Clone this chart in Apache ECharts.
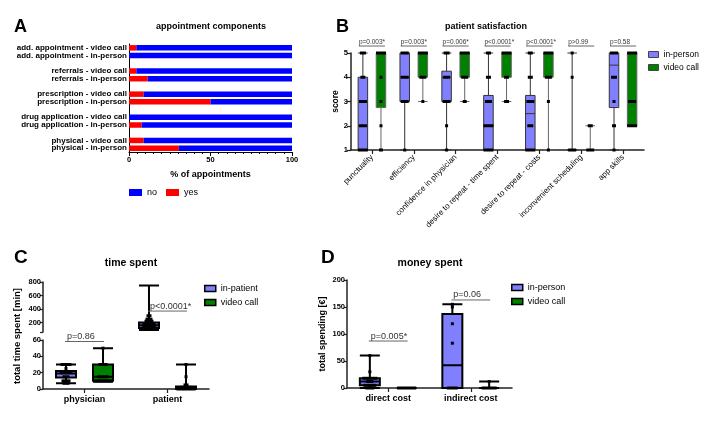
<!DOCTYPE html>
<html>
<head>
<meta charset="utf-8">
<script src="https://cdn.jsdelivr.net/npm/echarts@6/dist/echarts.min.js"></script>
<style>
  html, body { margin: 0; padding: 0; background: #fff; }
  #chart { width: 710px; height: 422px; }
</style>
</head>
<body>
<div id="chart"></div>
<script>
const FONT = '"Liberation Sans", Arial, sans-serif';

// A - appointment components (% of appointments, yes / no)
const aCats = [
  'add. appointment - video call', 'add. appointment - in-person',
  'referrals - video call', 'referrals - in-person',
  'prescription - video call', 'prescription - in-person',
  'drug application - video call', 'drug application - in-person',
  'physical - video call', 'physical - in-person'
];
const aYes = [4.5, 0, 4.5, 11.5, 9, 50, 0, 7.8, 9, 30.6];
const aNo = [95.5, 100, 95.5, 88.5, 91, 50, 100, 92.2, 91, 69.4];

// B - patient satisfaction, boxes [min, q1, median, q3, max]
const bCats = ['punctuality', 'efficiency', 'confidence in physician',
  'desire to repeat - time spent', 'desire to repeat - costs',
  'inconvenient scheduling', 'app skills'];
const bPvals = ['p=0.003*', 'p=0.003*', 'p=0.006*', 'p<0.0001*', 'p<0.0001*', 'p>0.99', 'p=0.58'];
const bInPerson = [[1, 1, 2, 4, 5], [1, 3, 4, 5, 5], [1, 3, 4, 4.25, 5], [1, 1, 2, 3.25, 5],
  [1, 1, 2.5, 3.25, 5], [1, 1, 1, 1, 5], [1, 2.75, 4.5, 5, 5]];
const bVideo = [[1, 2.75, 5, 5, 5], [3, 4, 5, 5, 5], [3, 4, 5, 5, 5], [3, 4, 5, 5, 5],
  [1, 4, 5, 5, 5], [1, 1, 1, 1, 2], [2, 2, 3, 5, 5]];
// single answers: [category, score, how many]
const bInDots = [
  [0, 1, 9], [0, 2, 6], [0, 3, 6], [0, 4, 3], [0, 5, 4],
  [1, 1, 1], [1, 3, 6], [1, 4, 6], [1, 5, 6],
  [2, 1, 1], [2, 2, 1], [2, 3, 6], [2, 4, 5], [2, 5, 4],
  [3, 1, 8], [3, 2, 8], [3, 3, 5], [3, 4, 3], [3, 5, 3],
  [4, 1, 8], [4, 2, 4], [4, 3, 6], [4, 4, 3], [4, 5, 3],
  [5, 1, 6], [5, 4, 1], [5, 5, 1],
  [6, 1, 1], [6, 2, 2], [6, 3, 1], [6, 4, 4], [6, 5, 6]
];
const bVidDots = [
  [0, 1, 2], [0, 2, 1], [0, 3, 1], [0, 4, 1], [0, 5, 9],
  [1, 3, 1], [1, 4, 5], [1, 5, 9],
  [2, 3, 2], [2, 4, 5], [2, 5, 9],
  [3, 3, 3], [3, 4, 3], [3, 5, 9],
  [4, 1, 1], [4, 3, 1], [4, 4, 5], [4, 5, 9],
  [5, 1, 6], [5, 2, 3],
  [6, 2, 8], [6, 3, 6], [6, 5, 9]
];

// C - time spent [min]
const cCats = ['physician', 'patient'];
const cPvals = ['p=0.86', 'p<0.0001*'];
const cInPatient = [[7, 14, 19, 22, 30], [90, 120, 160, 200, 750]];
const cVideo = [[9, 10, 15, 30, 50], [0, 0, 1, 3, 30]];
const cInDots = [[0, 30, 5], [0, 25, 1], [0, 20, 6], [0, 15, 3], [0, 10, 4], [0, 7, 3],
  [1, 300, 2], [1, 250, 3], [1, 220, 4], [1, 180, 6], [1, 150, 6], [1, 120, 7], [1, 100, 6]];
const cVidDots = [[0, 50, 1], [0, 30, 4], [0, 15, 5], [0, 10, 8],
  [1, 30, 1], [1, 15, 1], [1, 5, 2], [1, 2, 6], [1, 0, 9]];
const cBreak = 60; // axis break between the two segments

// D - money spent [€]
const dCats = ['direct cost', 'indirect cost'];
const dPvals = ['p=0.005*', 'p=0.06'];
const dInPerson = [[0, 5, 12, 18, 60], [0, 0, 42, 137, 155]];
const dVideo = [[0, 0, 0, 0, 0], [0, 0, 0, 0, 12]];
const dInDots = [[0, 0, 4], [0, 5, 6], [0, 12, 3], [0, 18, 7], [0, 30, 1], [0, 60, 1],
  [1, 0, 5], [1, 83, 1], [1, 119, 1], [1, 150, 1], [1, 155, 1]];
const dVidDots = [[0, 0, 9], [1, 0, 7], [1, 12, 1]];

const PURPLE = '#8080FF', GREEN = '#008000';

// A rows with an empty slot between each pair
const aLabels = [], aYesRows = [], aNoRows = [];
aCats.forEach(function (c, i) {
  if (i > 0 && i % 2 === 0) {
    aLabels.push(' '.repeat(i));
    aYesRows.push('-');
    aNoRows.push('-');
  }
  aLabels.push(c);
  aYesRows.push(aYes[i]);
  aNoRows.push(aNo[i]);
});

// same offset as the boxplot layout uses for two series
function boxOffset(band) {
  return 0.2875 * (band * 0.8 - 2);
}

function dotRender(side, step, maxW) {
  return function (params, api) {
    const c = api.coord([api.value('cat'), api.value('val')]);
    const off = boxOffset(api.size([1, 0])[0]);
    const w = Math.min(maxW, 3 + step * (api.value('n') - 1));
    return {
      type: 'rect',
      z2: 10,
      shape: { x: c[0] + side * off - w / 2, y: c[1] - 1.5, width: w, height: 3 },
      style: { fill: '#000' }
    };
  };
}

function pvalRender(labels, heights, dy, ext, fs, tdx) {
  return function (params, api) {
    const i = api.value(0);
    const c = api.coord([i, heights[params.dataIndex]]);
    const off = boxOffset(api.size([1, 0])[0]);
    const x1 = c[0] - off - ext, x2 = c[0] + off + ext, y = c[1] + dy;
    return {
      type: 'group',
      children: [
        { type: 'line', shape: { x1: x1, y1: y, x2: x2, y2: y }, style: { stroke: '#666', lineWidth: 1 } },
        {
          type: 'text',
          style: {
            text: labels[i], x: x1 + tdx, y: y - 0.5, align: 'left', verticalAlign: 'bottom',
            fontSize: fs, fontFamily: FONT, fill: '#333'
          }
        }
      ]
    };
  };
}

const empty = ['-', '-', '-', '-', '-'];
const cUpperIn = cInPatient.map(function (b) { return b[2] > cBreak ? b : empty; });
const cLowerIn = cInPatient.map(function (b) { return b[2] > cBreak ? empty : b; });
const cUpperVid = cVideo.map(function (b) { return b[2] > cBreak ? b : empty; });
const cLowerVid = cVideo.map(function (b) { return b[2] > cBreak ? empty : b; });

function dotSeries(data, side, x, y, step, maxW) {
  return {
    type: 'custom', xAxisIndex: x, yAxisIndex: y, silent: true, clip: false, z: 5,
    dimensions: ['cat', 'val', 'n'], encode: { x: 'cat', y: 'val' },
    data: data, renderItem: dotRender(side, step, maxW)
  };
}
// heights: where the bracket sits on the value axis, one per bracket
function pvalSeries(idx, labels, x, y, heights, dy, ext, fs, tdx) {
  return {
    type: 'custom', xAxisIndex: x, yAxisIndex: y, silent: true, clip: false, z: 5,
    encode: { x: 0, y: 1 }, data: idx.map(function (i, k) { return [i, heights[k]]; }),
    renderItem: pvalRender(labels, heights, dy, ext, fs, tdx)
  };
}
function boxSeries(name, data, x, y, fill, border, bw, width) {
  return {
    type: 'boxplot', name: name, xAxisIndex: x, yAxisIndex: y, data: data,
    boxWidth: [width, width], silent: true,
    itemStyle: { color: fill, borderColor: border, borderWidth: bw }
  };
}

const catAxisLine = { show: true, lineStyle: { color: '#222', width: 1.5 } };
const tickStyle = { color: '#222', width: 1.2 };

const chart = echarts.init(document.getElementById('chart'));

const option = {
  animation: false,
  backgroundColor: '#fff',
  textStyle: { fontFamily: FONT },
  title: [
    { text: 'A', left: 14, top: 18, padding: 0, textStyle: { fontSize: 18, fontWeight: 'bold', color: '#000' } },
    { text: 'appointment components', left: 211, top: 22, padding: 0, textAlign: 'center',
      textStyle: { fontSize: 9, fontWeight: 'bold', color: '#000' } },
    { text: 'B', left: 336, top: 18, padding: 0, textStyle: { fontSize: 18, fontWeight: 'bold', color: '#000' } },
    { text: 'patient satisfaction', left: 486, top: 22, padding: 0, textAlign: 'center',
      textStyle: { fontSize: 9, fontWeight: 'bold', color: '#000' } },
    { text: 'C', left: 14, top: 248, padding: 0, textStyle: { fontSize: 19, fontWeight: 'bold', color: '#000' } },
    { text: 'time spent', left: 131, top: 258, padding: 0, textAlign: 'center',
      textStyle: { fontSize: 10.5, fontWeight: 'bold', color: '#000' } },
    { text: 'D', left: 321, top: 248, padding: 0, textStyle: { fontSize: 19, fontWeight: 'bold', color: '#000' } },
    { text: 'money spent', left: 430, top: 258, padding: 0, textAlign: 'center',
      textStyle: { fontSize: 10.5, fontWeight: 'bold', color: '#000' } }
  ],
  legend: [
    { data: ['no', 'yes'], left: 129, top: 188, padding: 0, icon: 'rect', itemWidth: 13, itemHeight: 7,
      itemGap: 9, selectedMode: false, textStyle: { fontSize: 9, color: '#000' } },
    { data: [
        { name: 'in-person', itemStyle: { color: PURPLE, borderColor: '#444', borderWidth: 1 } },
        { name: 'video call', itemStyle: { color: GREEN, borderColor: '#444', borderWidth: 1 } }
      ],
      left: 648, top: 50, padding: 0, orient: 'vertical', icon: 'rect',
      itemWidth: 10, itemHeight: 6, itemGap: 4, selectedMode: false, textStyle: { fontSize: 8.5, color: '#000' } },
    { data: [
        { name: 'in-patient', itemStyle: { color: PURPLE, borderColor: '#000', borderWidth: 1.5 } },
        { name: 'video call', itemStyle: { color: GREEN, borderColor: '#000', borderWidth: 1.5 } }
      ],
      left: 204, top: 284, padding: 0, orient: 'vertical', icon: 'rect', itemWidth: 11, itemHeight: 6,
      itemGap: 5, selectedMode: false, textStyle: { fontSize: 9, color: '#000' } },
    { data: [
        { name: 'in-person', itemStyle: { color: PURPLE, borderColor: '#000', borderWidth: 1.5 } },
        { name: 'video call', itemStyle: { color: GREEN, borderColor: '#000', borderWidth: 1.5 } }
      ],
      left: 511, top: 283, padding: 0, orient: 'vertical', icon: 'rect', itemWidth: 11, itemHeight: 6,
      itemGap: 5, selectedMode: false, textStyle: { fontSize: 9, color: '#000' } }
  ],
  grid: [
    { left: 129, top: 44, width: 163, height: 108 },
    { left: 351, top: 53, width: 293, height: 97 },
    { left: 43, top: 282, width: 166, height: 50 },
    { left: 43, top: 340, width: 166, height: 49 },
    { left: 347, top: 280, width: 165, height: 108 }
  ],
  xAxis: [
    { gridIndex: 0, type: 'value', min: 0, max: 100, interval: 50,
      axisLine: { show: true, lineStyle: { color: '#000', width: 1 } },
      axisTick: { show: true, length: 4, lineStyle: { color: '#000' } },
      minorTick: { show: true, splitNumber: 10, length: 2, lineStyle: { color: '#000' } },
      splitLine: { show: false },
      axisLabel: { fontSize: 7.5, fontWeight: 'bold', color: '#000', margin: 4 },
      name: '% of appointments', nameLocation: 'middle', nameGap: 18,
      nameTextStyle: { fontSize: 9, fontWeight: 'bold', color: '#000' } },
    { gridIndex: 1, type: 'category', data: bCats,
      axisLine: catAxisLine,
      axisTick: { show: true, alignWithLabel: true, length: 4, lineStyle: tickStyle },
      axisLabel: { rotate: 45, interval: 0, fontSize: 8, color: '#000', margin: 6 } },
    { gridIndex: 2, type: 'category', data: cCats, show: false },
    { gridIndex: 3, type: 'category', data: cCats,
      axisLine: catAxisLine,
      axisTick: { show: true, alignWithLabel: true, length: 4, lineStyle: tickStyle },
      axisLabel: { fontSize: 9, fontWeight: 'bold', color: '#000', margin: 6 } },
    { gridIndex: 4, type: 'category', data: dCats,
      axisLine: catAxisLine,
      axisTick: { show: true, alignWithLabel: true, length: 4, lineStyle: tickStyle },
      axisLabel: { fontSize: 9, fontWeight: 'bold', color: '#000', margin: 6 } }
  ],
  yAxis: [
    { gridIndex: 0, type: 'category', inverse: true, data: aLabels,
      axisLine: { show: true, lineStyle: { color: '#000', width: 1 } },
      axisTick: { show: false },
      axisLabel: { interval: 0, fontSize: 8, fontWeight: 'bold', color: '#000', margin: 2 } },
    { gridIndex: 1, type: 'value', min: 1, max: 5, interval: 1,
      axisLine: catAxisLine,
      axisTick: { show: true, length: 4, lineStyle: tickStyle },
      splitLine: { show: false },
      axisLabel: { fontSize: 7.5, fontWeight: 'bold', color: '#000', margin: 3 },
      name: 'score', nameLocation: 'middle', nameGap: 9,
      nameTextStyle: { fontSize: 8.5, fontWeight: 'bold', color: '#000' } },
    { gridIndex: 2, type: 'value', min: cBreak, max: 800,
      axisLine: catAxisLine,
      axisTick: { show: true, length: 3, lineStyle: tickStyle, customValues: [60, 200, 400, 600, 800] },
      splitLine: { show: false },
      axisLabel: { fontSize: 7.5, fontWeight: 'bold', color: '#000', margin: 2,
        customValues: [200, 400, 600, 800] } },
    { gridIndex: 3, type: 'value', min: 0, max: cBreak, interval: 20,
      axisLine: catAxisLine,
      axisTick: { show: true, length: 3, lineStyle: tickStyle },
      splitLine: { show: false },
      axisLabel: { fontSize: 7.5, fontWeight: 'bold', color: '#000', margin: 2 } },
    { gridIndex: 4, type: 'value', min: 0, max: 200, interval: 50,
      axisLine: catAxisLine,
      axisTick: { show: true, length: 3, lineStyle: tickStyle },
      splitLine: { show: false },
      axisLabel: { fontSize: 7.5, fontWeight: 'bold', color: '#000', margin: 2 },
      name: 'total spending [€]', nameLocation: 'middle', nameGap: 20,
      nameTextStyle: { fontSize: 9, fontWeight: 'bold', color: '#000' } }
  ],
  graphic: [
    { type: 'text', x: 17, y: 336, rotation: Math.PI / 2, silent: true,
      style: { text: 'total time spent [min]', align: 'center', verticalAlign: 'middle',
        fontSize: 9.5, fontWeight: 'bold', fontFamily: FONT, fill: '#000' } }
  ],
  series: [
    // A
    { type: 'bar', name: 'yes', stack: 'a', xAxisIndex: 0, yAxisIndex: 0, data: aYesRows,
      barWidth: 5.5, silent: true, itemStyle: { color: '#FF0000' } },
    { type: 'bar', name: 'no', stack: 'a', xAxisIndex: 0, yAxisIndex: 0, data: aNoRows,
      barWidth: 5.5, silent: true, itemStyle: { color: '#0000FF' } },
    // B
    boxSeries('in-person', bInPerson, 1, 1, PURPLE, '#333', 1, 9.5),
    boxSeries('video call', bVideo, 1, 1, GREEN, '#666', 1, 9.5),
    dotSeries(bInDots, -1, 1, 1, 1, 10),
    dotSeries(bVidDots, 1, 1, 1, 1, 10),
    pvalSeries(bCats.map(function (c, i) { return i; }), bPvals, 1, 1,
      bCats.map(function () { return 5; }), -7, 4, 6.5, 0),
    // C upper segment
    boxSeries('in-patient', cUpperIn, 2, 2, PURPLE, '#000', 2, 20),
    boxSeries('video call', cUpperVid, 2, 2, GREEN, '#000', 2, 20),
    dotSeries(cInDots.filter(function (d) { return d[1] >= cBreak; }), -1, 2, 2, 2, 20),
    pvalSeries([1], cPvals, 2, 2, [370], 0, 1, 9, 2),
    // C lower segment
    boxSeries('in-patient', cLowerIn, 3, 3, PURPLE, '#000', 2, 20),
    boxSeries('video call', cLowerVid, 3, 3, GREEN, '#000', 2, 20),
    dotSeries(cInDots.filter(function (d) { return d[1] < cBreak; }), -1, 3, 3, 2, 20),
    dotSeries(cVidDots, 1, 3, 3, 2, 20),
    pvalSeries([0], cPvals, 3, 3, [cBreak], 1.5, 1, 9, 2),
    // D
    boxSeries('in-person', dInPerson, 4, 4, PURPLE, '#000', 2, 20),
    boxSeries('video call', dVideo, 4, 4, GREEN, '#000', 2, 20),
    dotSeries(dInDots, -1, 4, 4, 2, 20),
    dotSeries(dVidDots, 1, 4, 4, 2, 20),
    pvalSeries([0, 1], dPvals, 4, 4, [87, 163], 0, 1, 9, 2)
  ]
};

chart.setOption(option);
</script>
</body>
</html>
